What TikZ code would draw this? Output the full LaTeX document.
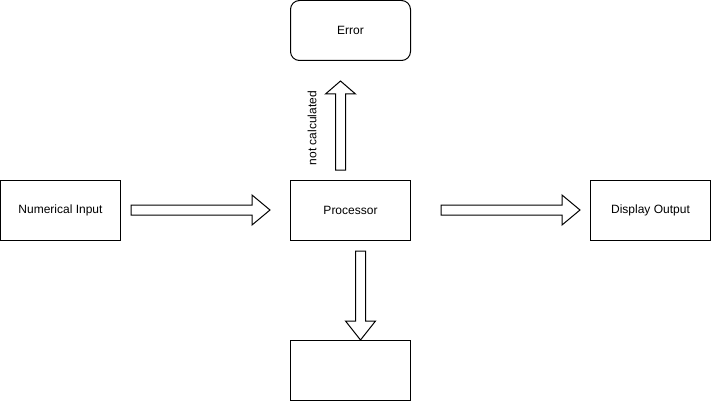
\documentclass[tikz,border=0pt]{standalone}
\usepackage{fontspec}
\setmainfont{Liberation Sans}
\usetikzlibrary{calc}
\usetikzlibrary{positioning}

\def\fathead{18pt}
\tikzset{
    fat head/.code={\def\fathead{#1}},
    fatarrow/.style={line width=1pt, line join=miter, to path={
        ($(\tikztostart)!5pt!90:(\tikztotarget)$)
        -- ($(\tikztotarget)!\fathead!(\tikztostart)!5pt!90:(\tikztotarget)$)
        -- ($(\tikztotarget)!\fathead!(\tikztostart)!15pt!90:(\tikztotarget)$)
        -- (\tikztotarget)
        -- ($(\tikztotarget)!\fathead!(\tikztostart)!15pt!-90:(\tikztotarget)$)
        -- ($(\tikztotarget)!\fathead!(\tikztostart)!5pt!-90:(\tikztotarget)$)
        -- ($(\tikztostart)!5pt!-90:(\tikztotarget)$)
        -- cycle}},
}

\begin{document}
\begin{tikzpicture}[
        x=1pt, y=-1pt,
        box/.style={draw, line width=1pt, minimum width=120pt, minimum height=60pt,
            inner sep=0pt, font=\fontsize{12}{14}\selectfont},
        rbox/.style={box, rounded corners=9pt},
        lbl/.style={font=\fontsize{12}{14}\selectfont, inner sep=0pt},
    ]
        \useasboundingbox (0,0) rectangle (711,401);

        % boxes
        \node (num)   at (60.5,210.5)  [box]  {Numerical Input};
        \node (proc)  at (350.5,210.5) [box]  {Processor};
        \node (disp)  at (650.5,210.5) [box]  {Display Output};
        \node (err)   at (350.5,30.5)  [rbox] {Error};
        \node (blank) at (350.5,370.5) [box]  {};

        % arrow ends
        \coordinate (num-a)  at ($(num.east)+(10,-0.5)$);
        \coordinate (num-b)  at ($(proc.west)+(-20,-0.5)$);
        \coordinate (disp-a) at ($(proc.east)+(30,-0.5)$);
        \coordinate (disp-b) at ($(disp.west)+(-10,-0.5)$);
        \coordinate (err-a)  at ($(proc.north)+(-10,-10)$);
        \coordinate (err-b)  at ($(err.south)+(-10,20)$);
        \coordinate (blank-a) at ($(proc.south)+(10,10)$);
        \coordinate (blank-b) at ($(blank.north)+(10,0)$);

        % arrows
        \draw[fatarrow] (num-a) to (num-b);
        \draw[fatarrow] (disp-a) to (disp-b);
        \draw[fatarrow,fat head=13pt] (err-a) to (err-b);
        \draw[fatarrow,fat head=19pt] (blank-a) to (blank-b);

        \node (nc) at (312,128) [lbl,rotate=90] {not calculated};
    \end{tikzpicture}
\end{document}
